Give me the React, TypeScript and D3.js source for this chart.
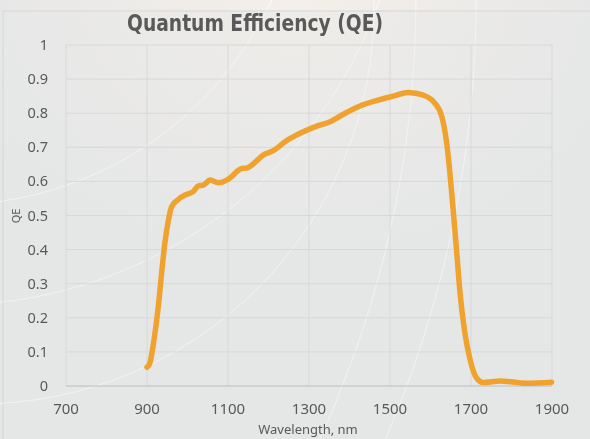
import React, { useEffect, useRef } from 'react';
import * as d3 from 'd3';

// wavelength (nm) and quantum efficiency
const wavelength = [900, 907, 916, 928, 936, 944, 953, 961, 973, 994, 1006, 1014, 1027, 1039, 1056, 1076, 1097, 1109, 1121, 1134, 1146, 1162, 1187, 1212, 1245, 1278, 1319, 1352, 1385, 1426, 1467, 1508, 1545, 1582, 1611, 1628, 1640, 1648, 1656, 1665, 1673, 1685, 1698, 1714, 1730, 1772, 1837, 1899];
const qe = [0.055, 0.067, 0.125, 0.233, 0.33, 0.418, 0.487, 0.526, 0.543, 0.56, 0.565, 0.57, 0.587, 0.589, 0.604, 0.596, 0.604, 0.614, 0.628, 0.638, 0.639, 0.651, 0.677, 0.69, 0.72, 0.741, 0.762, 0.775, 0.797, 0.821, 0.837, 0.85, 0.861, 0.853, 0.829, 0.79, 0.712, 0.624, 0.516, 0.389, 0.272, 0.155, 0.076, 0.023, 0.01, 0.015, 0.008, 0.011];
const xTicks = [700, 900, 1100, 1300, 1500, 1700, 1900];
const yTicks = [0, 0.1, 0.2, 0.3, 0.4, 0.5, 0.6, 0.7, 0.8, 0.9, 1];

// decorative background arcs [cx, cy, r]
const arcs = [[-22, 8, 396], [-50, -150, 455], [-50, -150, 355], [-634, 0, 1050], [-634, 0, 1110]];

const W = 590, H = 439;
const M = { left: 66, right: 552, top: 45, bottom: 386 };
const FONT = '"Noto Sans", "Open Sans", sans-serif';
const GREY = '#595959';

export default function App() {
  const svgRef = useRef<SVGSVGElement>(null);

  useEffect(() => {
    const svg = d3.select(svgRef.current);
    svg.selectAll('*').remove();

    const defs = svg.append('defs');
    const grad = defs.append('radialGradient').attr('id', 'glow')
      .attr('cx', 0.5).attr('cy', 0).attr('r', 0.6);
    grad.append('stop').attr('offset', '0%').attr('stop-color', '#f4efe9');
    grad.append('stop').attr('offset', '100%').attr('stop-color', '#e5e6e7');

    svg.append('rect').attr('width', W).attr('height', H).attr('fill', 'url(#glow)');

    // arcs
    svg.append('g').selectAll('circle').data(arcs).join('circle')
      .attr('cx', d => d[0]).attr('cy', d => d[1]).attr('r', d => d[2])
      .attr('fill', 'none').attr('stroke', '#ffffff').attr('stroke-opacity', 0.7).attr('stroke-width', 1);

    // chart area
    svg.append('rect').attr('x', 3).attr('y', 11).attr('width', W).attr('height', H)
      .attr('fill', '#e6e7e8').attr('fill-opacity', 0.35).attr('stroke', '#d6d7d8');

    const x = d3.scaleLinear().domain([700, 1900]).range([M.left, M.right]);
    const y = d3.scaleLinear().domain([0, 1]).range([M.bottom, M.top]);

    // grid
    svg.append('g').selectAll('line').data(yTicks.slice(1)).join('line')
      .attr('x1', M.left).attr('x2', M.right).attr('y1', d => y(d)).attr('y2', d => y(d))
      .attr('stroke', '#d7d8d9').attr('stroke-width', 1);
    svg.append('g').selectAll('line').data(xTicks).join('line')
      .attr('x1', d => x(d)).attr('x2', d => x(d)).attr('y1', M.top).attr('y2', M.bottom)
      .attr('stroke', '#d7d8d9').attr('stroke-width', 1);
    svg.append('line').attr('x1', M.left).attr('x2', M.right).attr('y1', y(0)).attr('y2', y(0))
      .attr('stroke', '#bcbdbe').attr('stroke-width', 1);

    // tick labels
    svg.append('g').selectAll('text').data(yTicks).join('text')
      .attr('x', 48).attr('y', d => y(d) + 5).attr('text-anchor', 'end')
      .attr('font-family', FONT).attr('font-size', 14.5).attr('fill', GREY)
      .text(d => d3.format('~g')(d));
    svg.append('g').selectAll('text').data(xTicks).join('text')
      .attr('x', d => x(d)).attr('y', 414).attr('text-anchor', 'middle')
      .attr('font-family', FONT).attr('font-size', 15).attr('fill', GREY)
      .text(d => d);

    // line
    const pts = wavelength.map((w, i) => [w, qe[i]] as [number, number]);
    const line = d3.line<[number, number]>().x(d => x(d[0])).y(d => y(d[1])).curve(d3.curveMonotoneX);
    svg.append('path').attr('d', line(pts))
      .attr('fill', 'none').attr('stroke', '#f0a22e').attr('stroke-width', 5.5)
      .attr('stroke-linecap', 'round').attr('stroke-linejoin', 'round');

    // titles
    svg.append('text').attr('x', 255).attr('y', 31).attr('text-anchor', 'middle')
      .attr('font-family', '"Liberation Sans Narrow", "DejaVu Sans Condensed", sans-serif')
      .attr('font-weight', 'bold').attr('font-size', 23)
      .attr('textLength', 256).attr('lengthAdjust', 'spacingAndGlyphs')
      .attr('fill', GREY).text('Quantum Efficiency (QE)');
    svg.append('text').attr('x', 308).attr('y', 434).attr('text-anchor', 'middle')
      .attr('font-family', FONT).attr('font-size', 13).attr('fill', GREY).text('Wavelength, nm');
    svg.append('text').attr('transform', 'translate(20,216) rotate(-90)').attr('text-anchor', 'middle')
      .attr('font-family', FONT).attr('font-size', 11).attr('fill', GREY).text('QE');
  }, []);

  return (
    <div style={{ position: 'fixed', left: 0, top: 0 }}>
      <svg ref={svgRef} width={W} height={H} style={{ display: 'block' }} />
    </div>
  );
}
